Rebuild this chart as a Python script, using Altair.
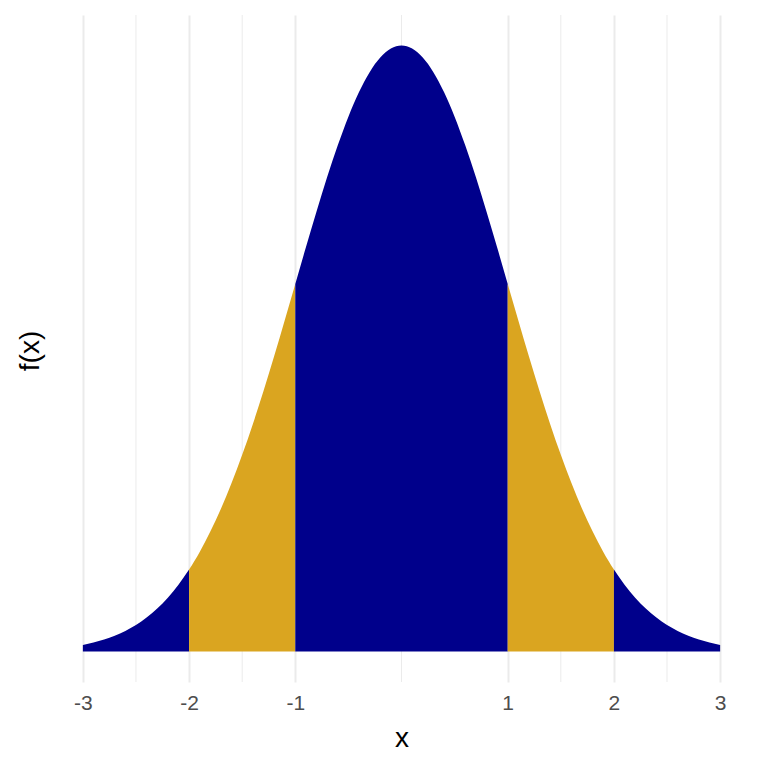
import altair as alt
import pandas as pd

# x positions and density values (0.1 steps, symmetric)
xs = [round(-3 + 0.1 * i, 1) for i in range(61)]
half = [0.3989, 0.3970, 0.3910, 0.3814, 0.3683, 0.3521, 0.3332, 0.3123, 0.2897, 0.2661,
        0.2420, 0.2179, 0.1942, 0.1714, 0.1497, 0.1295, 0.1109, 0.0940, 0.0790, 0.0656,
        0.0540, 0.0440, 0.0355, 0.0283, 0.0224, 0.0175, 0.0136, 0.0104, 0.0079, 0.0060,
        0.0044]
fx = half[::-1] + half[1:]

segments = ["a", "b", "c", "d", "e"]
seg_lo = [-3, -2, -1, 1, 2]
seg_hi = [-2, -1, 1, 2, 3]
seg_band = ["outer", "inner", "outer", "inner", "outer"]

major_breaks = [-3, -2, -1, 1, 2, 3]
minor_breaks = [-2.5, -1.5, 0, 1.5, 2.5]

rows = []
for s, lo, hi, b in zip(segments, seg_lo, seg_hi, seg_band):
    for x, y in zip(xs, fx):
        if lo - 1e-9 <= x <= hi + 1e-9:
            rows.append({"x": x, "fx": y, "seg": s, "band": b})
df = pd.DataFrame(rows)
minor_df = pd.DataFrame({"m": minor_breaks})

W, H = 701, 667
xscale = alt.Scale(domain=[-3.3, 3.3], nice=False, zero=False)
yscale = alt.Scale(domain=[-0.02, 0.419], nice=False, zero=False)

minor = alt.Chart(minor_df).mark_rule(color="#EBEBEB", strokeWidth=1).encode(
    x=alt.X("m:Q", scale=xscale),
    y=alt.value(0),
    y2=alt.value(H),
)

area = alt.Chart(df).mark_area(interpolate="monotone").encode(
    x=alt.X(
        "x:Q",
        scale=xscale,
        title="x",
        axis=alt.Axis(
            values=major_breaks,
            labelExpr="datum.value + ''",
            ticks=False,
            domain=False,
            grid=True,
            gridColor="#EBEBEB",
            gridWidth=2,
            labelFont="Liberation Sans",
            labelFontSize=21,
            labelColor="#4D4D4D",
            labelPadding=10,
            titleFont="Liberation Sans",
            titleFontSize=28,
            titleFontWeight="normal",
            titleColor="#000000",
            titleBaseline="alphabetic",
            titleY=64,
        ),
    ),
    y=alt.Y(
        "fx:Q",
        scale=yscale,
        stack=None,
        title="f(x)",
        axis=alt.Axis(
            labels=False,
            ticks=False,
            domain=False,
            grid=False,
            titleFont="Liberation Sans",
            titleFontSize=28,
            titleFontWeight="normal",
            titleColor="#000000",
            titleAngle=270,
            titleBaseline="middle",
            titleX=-21,
            titleY=H / 2 + 2,
        ),
    ),
    y2=alt.datum(0),
    detail="seg:N",
    color=alt.Color(
        "band:N",
        scale=alt.Scale(domain=["outer", "inner"], range=["#00008B", "#DAA520"]),
        legend=None,
    ),
)

chart = (
    alt.layer(minor, area)
    .properties(
        width=W,
        height=H,
        autosize=alt.AutoSizeParams(type="none"),
        padding={"left": 43, "top": 7, "right": 8, "bottom": 78},
    )
    .configure_view(stroke=None)
)

chart.save("out.html", embed_options={"renderer": "svg", "actions": False})
